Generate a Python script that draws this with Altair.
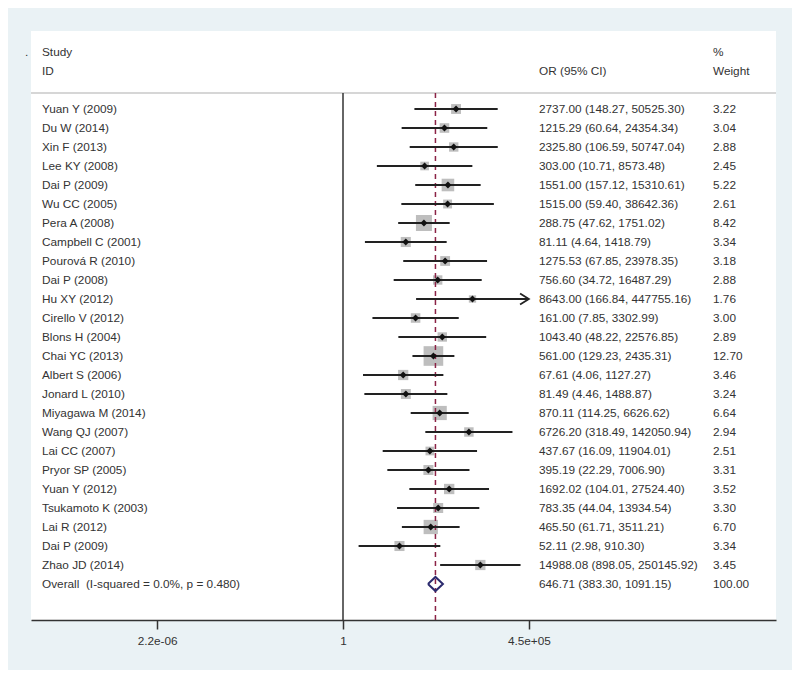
import altair as alt
import pandas as pd
import math

studies = ["Yuan Y (2009)", "Du W (2014)", "Xin F (2013)", "Lee KY (2008)", "Dai P (2009)",
           "Wu CC (2005)", "Pera A (2008)", "Campbell C (2001)", "Pourová R (2010)", "Dai P (2008)",
           "Hu XY (2012)", "Cirello V (2012)", "Blons H (2004)", "Chai YC (2013)", "Albert S (2006)",
           "Jonard L (2010)", "Miyagawa M (2014)", "Wang QJ (2007)", "Lai CC (2007)", "Pryor SP (2005)",
           "Yuan Y (2012)", "Tsukamoto K (2003)", "Lai R (2012)", "Dai P (2009)", "Zhao JD (2014)"]
or_est = [2737.00, 1215.29, 2325.80, 303.00, 1551.00, 1515.00, 288.75, 81.11, 1275.53, 756.60,
          8643.00, 161.00, 1043.40, 561.00, 67.61, 81.49, 870.11, 6726.20, 437.67, 395.19,
          1692.02, 783.35, 465.50, 52.11, 14988.08]
or_lo = [148.27, 60.64, 106.59, 10.71, 157.12, 59.40, 47.62, 4.64, 67.85, 34.72,
         166.84, 7.85, 48.22, 129.23, 4.06, 4.46, 114.25, 318.49, 16.09, 22.29,
         104.01, 44.04, 61.71, 2.98, 898.05]
or_hi = [50525.30, 24354.34, 50747.04, 8573.48, 15310.61, 38642.36, 1751.02, 1418.79, 23978.35, 16487.29,
         447755.16, 3302.99, 22576.85, 2435.31, 1127.27, 1488.87, 6626.62, 142050.94, 11904.01, 7006.90,
         27524.40, 13934.54, 3511.21, 910.30, 250145.92]
weights = [3.22, 3.04, 2.88, 2.45, 5.22, 2.61, 8.42, 3.34, 3.18, 2.88,
           1.76, 3.00, 2.89, 12.70, 3.46, 3.24, 6.64, 2.94, 2.51, 3.31,
           3.52, 3.30, 6.70, 3.34, 3.45]

overall_label = "Overall\u00a0 (I-squared = 0.0%, p = 0.480)"
overall_est = 646.71
overall_lo = 383.30
overall_hi = 1091.15
overall_weight = 100.00

tick_labels = ["2.2e-06", "1", "4.5e+05"]
NULL_OR = 1

# ---- styling ----
FONT = "Liberation Sans"
FS = 11.8
TXT = "#333333"
W, H = 745, 589
PX_PER_LN = 14.284
X_CENTER_PX = 312  # pixel of OR = 1 inside the plot area
xmin = math.exp(-X_CENTER_PX / PX_PER_LN)
xmax = math.exp((W - X_CENTER_PX) / PX_PER_LN)
ROW0_PX = 78
ROW_PX = 19
ydom = [-ROW0_PX / ROW_PX, (H - ROW0_PX) / ROW_PX]
SEP_PX = 62
BOX_AREA_PER_PCT = 30.4
DIAMOND_HALF = 0.37

max_hi = max(or_hi)
tick_vals = [1 / max_hi, NULL_OR, max_hi]

df = pd.DataFrame({
    "study": studies, "est": or_est, "lo": or_lo, "hi": or_hi, "w": weights,
    "row": list(range(len(studies))),
})
df["ortext"] = [f"{e:.2f} ({l:.2f}, {h:.2f})" for e, l, h in zip(or_est, or_lo, or_hi)]
df["wtext"] = [f"{w:.2f}" for w in weights]

ov_row = len(studies)
ov = pd.DataFrame({"study": [overall_label], "row": [ov_row],
                   "ortext": [f"{overall_est:.2f} ({overall_lo:.2f}, {overall_hi:.2f})"],
                   "wtext": [f"{overall_weight:.2f}"]})
dia = pd.DataFrame({
    "x": [overall_lo, overall_est, overall_hi, overall_est, overall_lo],
    "y": [ov_row, ov_row - DIAMOND_HALF, ov_row, ov_row + DIAMOND_HALF, ov_row],
    "k": [0, 1, 2, 3, 4],
})

xscale = alt.Scale(type="log", domain=[xmin, xmax], nice=False, zero=False)
yscale = alt.Scale(domain=ydom, reverse=True, nice=False, zero=False)
label_expr = (f"datum.value < 0.001 ? '{tick_labels[0]}' : "
              f"(datum.value > 1000 ? '{tick_labels[2]}' : '{tick_labels[1]}')")
xaxis = alt.Axis(values=tick_vals, labelExpr=label_expr, title=None, grid=False,
                 domainColor="#333333", domainWidth=1.5, tickColor="#333333", tickWidth=1.5,
                 tickSize=9, labelFont=FONT, labelFontSize=FS, labelColor=TXT, labelPadding=6,
                 labelFlush=False, labelOverlap=False)
Y = alt.Y("row:Q", scale=yscale, axis=None)

base = alt.Chart(df)

boxes = base.mark_square(color="#BEBEBE", opacity=1).encode(
    x=alt.X("est:Q", scale=xscale, axis=xaxis),
    y=Y,
    size=alt.Size("w:Q", scale=alt.Scale(domain=[0, max(weights)],
                                         range=[0, BOX_AREA_PER_PCT * max(weights)]), legend=None),
)
ci = base.mark_rule(color="#222222", strokeWidth=1.8).encode(
    x=alt.X("lo:Q", scale=xscale, axis=xaxis), x2="hi:Q", y=Y)
dots = base.mark_point(shape="diamond", filled=True, color="#111111", size=48, opacity=1).encode(
    x=alt.X("est:Q", scale=xscale, axis=xaxis), y=Y)
arrow = base.transform_filter(f"datum.hi >= {max_hi * 0.999}").mark_point(
    shape="M-1.6,-1L0,0L-1.6,1", filled=False, color="#222222", size=121, strokeWidth=1.8,
    opacity=1).encode(x=alt.X("hi:Q", scale=xscale, axis=xaxis), y=Y)

null_line = alt.Chart(pd.DataFrame({"a": [0]})).mark_rule(color="#333333", strokeWidth=1.5).encode(
    x=alt.XDatum(NULL_OR, type="quantitative", scale=xscale, axis=xaxis),
    y=alt.value(SEP_PX), y2=alt.value(H))
ov_line = alt.Chart(pd.DataFrame({"a": [0]})).mark_rule(
    color="#8B2346", strokeWidth=1.5, strokeDash=[5, 4]).encode(
    x=alt.XDatum(overall_est, type="quantitative", scale=xscale, axis=xaxis),
    y=alt.value(SEP_PX), y2=alt.value(H))
sep = alt.Chart(pd.DataFrame({"a": [0]})).mark_rule(color="#C8C8C8", strokeWidth=1.5).encode(
    x=alt.value(0), x2=alt.value(W), y=alt.value(SEP_PX))

diamond = alt.Chart(dia).mark_line(color="#2B2A6E", strokeWidth=2).encode(
    x=alt.X("x:Q", scale=xscale, axis=xaxis), y=alt.Y("y:Q", scale=yscale, axis=None),
    order="k:Q")

tstyle = dict(font=FONT, fontSize=FS, color=TXT, align="left", baseline="middle")
lab = base.mark_text(**tstyle).encode(x=alt.value(11), y=Y, text="study:N")
ortx = base.mark_text(**tstyle).encode(x=alt.value(508), y=Y, text="ortext:N")
wtx = base.mark_text(**tstyle).encode(x=alt.value(682), y=Y, text="wtext:N")
ovc = alt.Chart(ov)
ov_lab = ovc.mark_text(**tstyle).encode(x=alt.value(11), y=Y, text="study:N")
ov_or = ovc.mark_text(**tstyle).encode(x=alt.value(508), y=Y, text="ortext:N")
ov_w = ovc.mark_text(**tstyle).encode(x=alt.value(682), y=Y, text="wtext:N")

hdr = pd.DataFrame({"t": ["Study", "ID", "OR (95% CI)", "%", "Weight", "."],
                    "px": [11, 11, 508, 682, 682, -6],
                    "py": [21, 40, 40, 21, 40, 21]})
headers = alt.Chart(hdr).mark_text(**tstyle).encode(
    x=alt.X("px:Q", scale=None), y=alt.Y("py:Q", scale=None), text="t:N")

chart = alt.layer(
    boxes, sep, null_line, ov_line, ci, dots, arrow, diamond,
    lab, ortx, wtx, ov_lab, ov_or, ov_w, headers,
).properties(
    width=W, height=H, autosize="none",
    padding={"left": 23, "top": 23, "right": 16, "bottom": 50},
    background="#EAF2F5",
).configure_view(stroke=None, fill="white")

chart.save("out.html", embed_options={"renderer": "svg", "actions": False})
